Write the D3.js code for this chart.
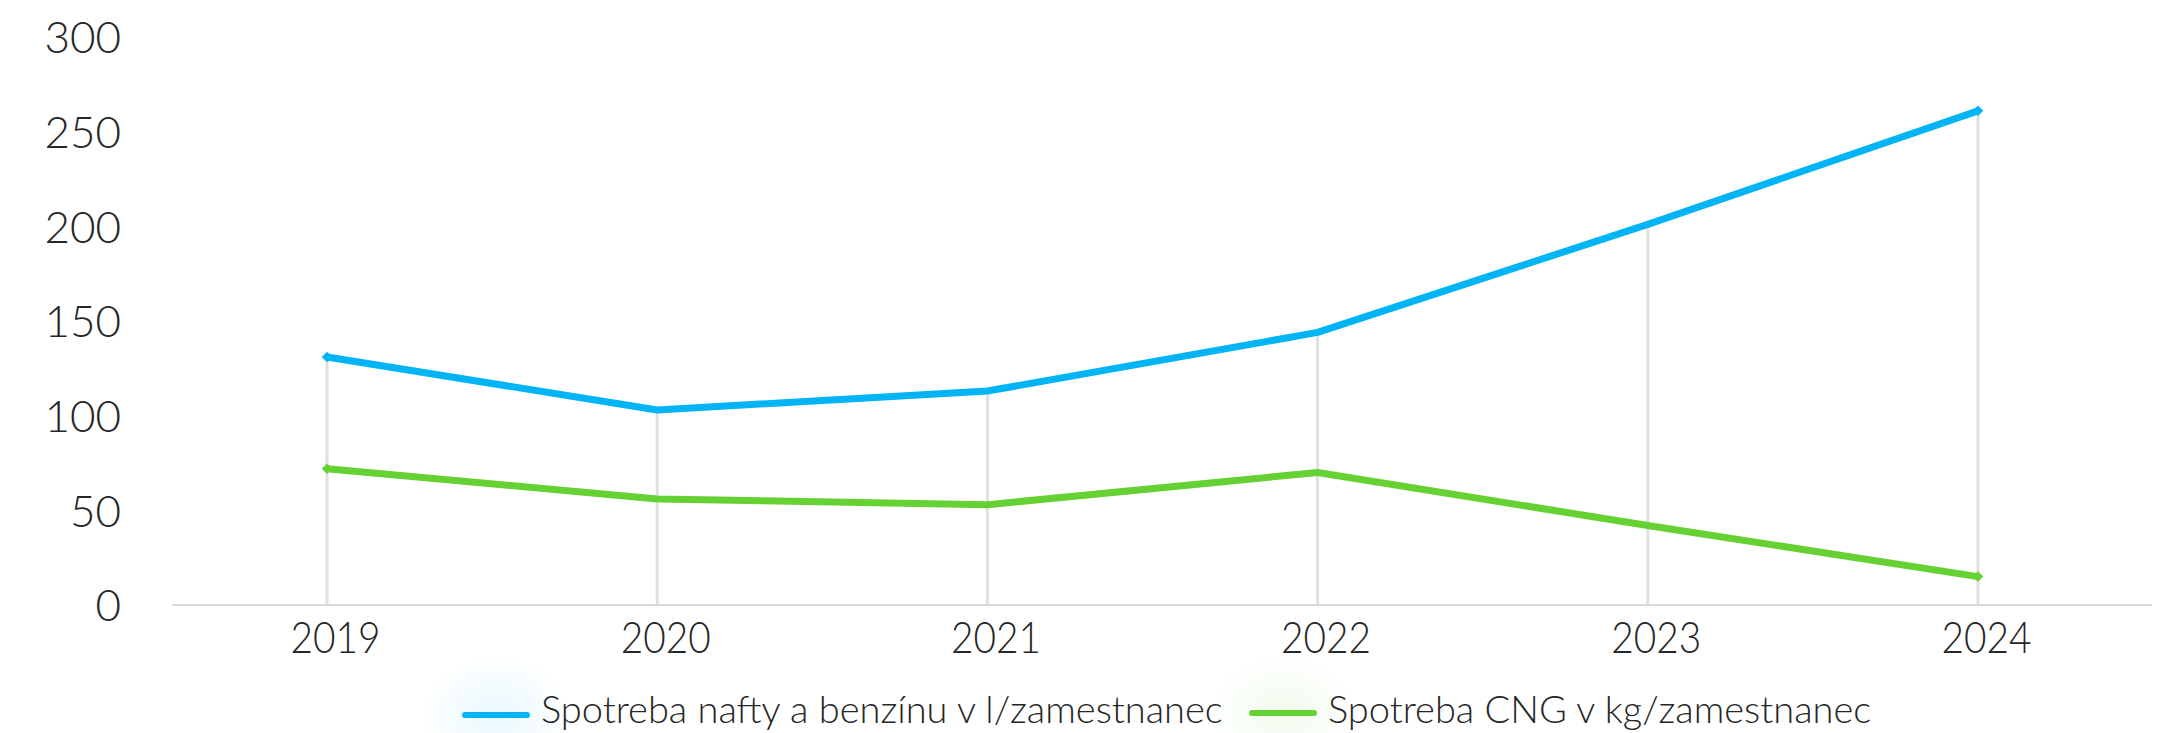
<!DOCTYPE html>
<html>
<head>
<meta charset="utf-8">
<script src="https://cdn.jsdelivr.net/npm/d3@7"></script>
<style>
  html, body { margin: 0; padding: 0; background: #ffffff; }
  svg { display: block; }
  text { font-family: Lato, "Open Sans", sans-serif; font-weight: 300; fill: #262626; }
</style>
</head>
<body>
<svg id="chart" width="2168" height="733"></svg>
<script>
const categories = ["2019", "2020", "2021", "2022", "2023", "2024"];
const fuelValues = [131, 103, 113, 144, 201, 261];
const cngValues = [72, 56, 53, 70, 42, 15];
const yTicks = [0, 50, 100, 150, 200, 250, 300];
const seriesNames = ["Spotreba nafty a benzínu v l/zamestnanec", "Spotreba CNG v kg/zamestnanec"];
const seriesColors = ["#00b4f5", "#66d133"];

const series = [
  { name: seriesNames[0], color: seriesColors[0], values: fuelValues },
  { name: seriesNames[1], color: seriesColors[1], values: cngValues }
];

const svg = d3.select("#chart");

const x = d3.scalePoint().domain(categories).range([327, 1978]);
const y = d3.scaleLinear().domain([0, 300]).range([605, 37]);

// y-axis labels (no line, no ticks)
const yAxis = d3.axisLeft(y).tickValues(yTicks).tickSize(0).tickPadding(0).tickFormat(d3.format("d"));
const gy = svg.append("g").attr("transform", "translate(121,0)").call(yAxis);
gy.select(".domain").remove();
gy.selectAll("text")
  .attr("font-size", 44)
  .attr("dy", "0.36em")
  .style("font-family", "Lato, 'Open Sans', sans-serif")
  .style("font-weight", 300)
  .attr("fill", "#262626");

// drop lines from axis to highest series value
const maxVals = categories.map((c, i) => Math.max(...series.map(s => s.values[i])));
svg.append("g").selectAll("line")
  .data(categories)
  .join("line")
  .attr("x1", d => x(d)).attr("x2", d => x(d))
  .attr("y1", y(0)).attr("y2", (d, i) => y(maxVals[i]))
  .attr("stroke", "#e0e0e0")
  .attr("stroke-width", 3);

// x axis
const xAxis = d3.axisBottom(x).tickSize(0).tickPadding(0);
const gx = svg.append("g").attr("transform", `translate(0,${y(0)})`).call(xAxis);
gx.select(".domain").remove();
gx.append("line")
  .attr("x1", 172).attr("x2", 2152)
  .attr("y1", 0).attr("y2", 0)
  .attr("stroke", "#d9d9d9").attr("stroke-width", 2);
gx.selectAll(".tick text")
  .attr("font-size", 44)
  .attr("x", 8)
  .attr("dy", 0)
  .attr("y", 48)
  .attr("textLength", 90)
  .attr("lengthAdjust", "spacingAndGlyphs")
  .style("font-family", "Lato, 'Open Sans', sans-serif")
  .style("font-weight", 300)
  .attr("fill", "#262626");

// lines
const line = d3.line()
  .x((d, i) => x(categories[i]))
  .y(d => y(d));

const gl = svg.append("g");
series.forEach(s => {
  gl.append("path")
    .datum(s.values)
    .attr("d", line)
    .attr("fill", "none")
    .attr("stroke", s.color)
    .attr("stroke-width", 7)
    .attr("stroke-linejoin", "round");
  // small diamond end markers
  const ends = [0, s.values.length - 1];
  gl.selectAll(null)
    .data(ends)
    .join("path")
    .attr("d", d3.symbol().type(d3.symbolDiamond2).size(70))
    .attr("transform", i => `translate(${x(categories[i])},${y(s.values[i])})`)
    .attr("fill", s.color);
});

// legend
const defs = svg.append("defs");
series.forEach((s, i) => {
  const g = defs.append("radialGradient").attr("id", "glow" + i);
  g.append("stop").attr("offset", "0%").attr("stop-color", s.color).attr("stop-opacity", 0.09);
  g.append("stop").attr("offset", "100%").attr("stop-color", s.color).attr("stop-opacity", 0);
});

const legendX = [462, 1249];
const legendY = [715, 713];
const lg = svg.append("g");
series.forEach((s, i) => {
  const cx = legendX[i] + 34;
  lg.append("ellipse")
    .attr("cx", cx).attr("cy", legendY[i])
    .attr("rx", 75).attr("ry", 60)
    .attr("fill", `url(#glow${i})`);
  lg.append("line")
    .attr("x1", legendX[i] + 3).attr("x2", legendX[i] + 65)
    .attr("y1", legendY[i]).attr("y2", legendY[i])
    .attr("stroke", s.color).attr("stroke-width", 6)
    .attr("stroke-linecap", "round");
  lg.append("text")
    .attr("x", legendX[i] + 79)
    .attr("y", 723)
    .attr("font-size", 38)
    .text(s.name);
});
</script>
</body>
</html>
